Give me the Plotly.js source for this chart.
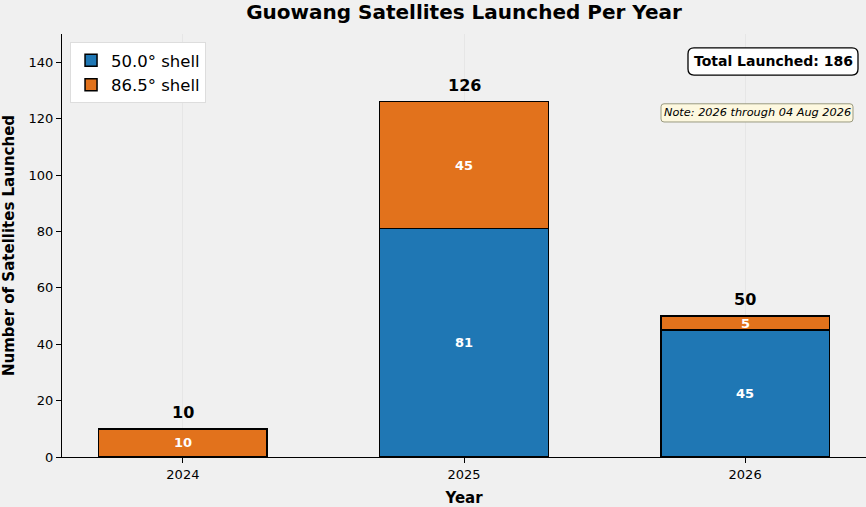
<!DOCTYPE html>
<html>
<head>
<meta charset="utf-8">
<script src="https://cdn.plot.ly/plotly-3.0.1.min.js"></script>
<style>html,body{margin:0;padding:0;background:#f0f0f0;}#chart{width:866px;height:507px;}</style>
</head>
<body>
<div id="chart"></div>
<script>
const years = ['2024', '2025', '2026'];
const shell50 = [0, 81, 45];
const shell865 = [10, 45, 5];
const seriesNames = ['50.0° shell', '86.5° shell'];
const totalLabel = 'Total Launched: ';
const noteText = 'Note: 2026 through 04 Aug 2026';

const totals = years.map((_, i) => shell50[i] + shell865[i]);
const grand = totals.reduce((a, b) => a + b, 0);
const FONT = 'DejaVu Sans, sans-serif';

const mk = (name, vals, color) => ({
  type: 'bar', name: name, x: years, y: vals,
  width: 0.6,
  marker: {color: color, line: {color: '#000', width: 1.5}},
  hoverinfo: 'x+y'
});

const data = [
  mk(seriesNames[0], shell50, '#1f77b4'),
  mk(seriesNames[1], shell865, '#e2721c')
];

const annotations = [];
years.forEach((yr, i) => {
  if (shell50[i] > 0) annotations.push({
    x: i, y: shell50[i] / 2, xref: 'x', yref: 'y', showarrow: false,
    text: '<b>' + shell50[i] + '</b>', font: {size: 13, color: '#fff', family: FONT}
  });
  if (shell865[i] > 0) annotations.push({
    x: i, y: shell50[i] + shell865[i] / 2, xref: 'x', yref: 'y', showarrow: false,
    text: '<b>' + shell865[i] + '</b>', font: {size: 13, color: '#fff', family: FONT}
  });
  annotations.push({
    x: i, y: totals[i], xref: 'x', yref: 'y', showarrow: false,
    text: '<b>' + totals[i] + '</b>', yanchor: 'bottom', yshift: 5,
    font: {size: 16, color: '#000', family: FONT}
  });
});

const rr = (x0, y0, x1, y1, rx, ry) =>
  `M${x0 + rx},${y0} L${x1 - rx},${y0} Q${x1},${y0} ${x1},${y0 + ry} L${x1},${y1 - ry} Q${x1},${y1} ${x1 - rx},${y1} L${x0 + rx},${y1} Q${x0},${y1} ${x0},${y1 - ry} L${x0},${y0 + ry} Q${x0},${y0} ${x0 + rx},${y0} Z`;

const PW = 804, PH = 423;
const shapes = [
  {type: 'path', xref: 'paper', yref: 'paper', layer: 'above',
   path: rr(626 / PW, 0.903, 796 / PW, 0.967, 6 / PW, 6 / PH),
   fillcolor: '#ffffff', line: {color: '#000', width: 1.3}},
  {type: 'path', xref: 'paper', yref: 'paper', layer: 'above',
   path: rr(599 / PW, 0.792, 791 / PW, 0.835, 3 / PW, 3 / PH),
   fillcolor: '#fdf8df', line: {color: '#9a9a80', width: 1}}
];

annotations.push({
  xref: 'paper', yref: 'paper', x: 711 / PW, y: 0.935,
  xanchor: 'center', yanchor: 'middle', showarrow: false,
  text: '<b>' + totalLabel + grand + '</b>',
  font: {size: 14, color: '#000', family: FONT}
});
annotations.push({
  xref: 'paper', yref: 'paper', x: 695 / PW, y: 0.8135,
  xanchor: 'center', yanchor: 'middle', showarrow: false,
  text: '<i>' + noteText + '</i>',
  font: {size: 11.3, color: '#000', family: FONT}
});

const layout = {
  width: 866, height: 507,
  paper_bgcolor: '#f0f0f0', plot_bgcolor: '#f0f0f0',
  margin: {l: 62, r: 0, t: 34, b: 50},
  barmode: 'stack',
  font: {family: FONT, color: '#000'},
  title: {
    text: '<b>Guowang Satellites Launched Per Year</b>',
    font: {size: 20, family: FONT, color: '#000'},
    x: 0.5, xref: 'paper', xanchor: 'center', y: 0.977, yref: 'container', yanchor: 'middle'
  },
  xaxis: {
    type: 'category', range: [-0.43, 2.43],
    showline: true, linecolor: '#000', linewidth: 1.3,
    ticks: 'outside', ticklen: 5, tickcolor: '#000', tickwidth: 1.3,
    tickfont: {size: 13, family: FONT},
    showgrid: true, gridcolor: '#e6e6e6', gridwidth: 1,
    title: {text: '<b>Year</b>', font: {size: 15, family: FONT}, standoff: 12}
  },
  yaxis: {
    range: [0, 150], dtick: 20,
    showline: true, linecolor: '#000', linewidth: 1.3,
    ticks: 'outside', ticklen: 5, tickcolor: '#000', tickwidth: 1.3,
    tickfont: {size: 13, family: FONT},
    showgrid: false, zeroline: false,
    title: {text: '<b>Number of Satellites Launched</b>', font: {size: 15, family: FONT}, standoff: 11}
  },
  legend: {
    x: 0.01, y: 0.981, xanchor: 'left', yanchor: 'top',
    bgcolor: '#ffffff', bordercolor: '#dddddd', borderwidth: 1,
    font: {size: 16.5, family: FONT}, traceorder: 'normal',
    entrywidth: 150, entrywidthmode: 'pixels', tracegroupgap: 4
  },
  shapes: shapes,
  annotations: annotations,
  showlegend: true
};

Plotly.newPlot('chart', data, layout, {displayModeBar: false});
</script>
</body>
</html>
